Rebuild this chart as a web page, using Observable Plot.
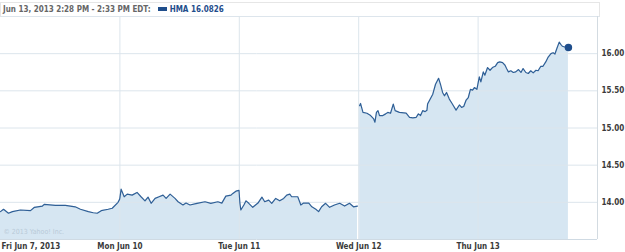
<!DOCTYPE html>
<html>
<head>
<meta charset="utf-8">
<script src="https://cdn.jsdelivr.net/npm/d3@7"></script>
<script src="https://cdn.jsdelivr.net/npm/@observablehq/plot@0.6"></script>
<style>
  body { margin: 0; background: #fff; font-family: "DejaVu Sans Condensed", "DejaVu Sans", sans-serif; }
  #wrap { position: relative; width: 625px; height: 252px; overflow: hidden; }
  #hdr { position: absolute; left: 0; top: 2px; width: 596px; height: 13px; border: 1px solid #e6e6e6; border-bottom: 1px solid #dde5ec;
         font-size: 8px; font-weight: bold; color: #666; line-height: 13px; padding-left: 2px; box-sizing: content-box; white-space: nowrap; }
  #hdr .sw { display: inline-block; width: 9px; height: 4px; background: #1f4e8c; margin: 0 3px 1px 7px; vertical-align: middle; }
  #hdr .ser { color: #1f4e8c; }
  #chart { position: absolute; left: 0; top: 16px; }
</style>
</head>
<body>
<div id="wrap">
  <div id="hdr"></div>
  <div id="chart"></div>
</div>
<script>
// ---- data ----
const headerRange = "Jun 13, 2013 2:28 PM - 2:33 PM EDT:";
const seriesName = "HMA";
const lastValue = 16.0826;
const dayLabels = ["Fri Jun 7, 2013", "Mon Jun 10", "Tue Jun 11", "Wed Jun 12", "Thu Jun 13"];
const sessionMinutes = 390;
const yTicks = [14.0, 14.5, 15.0, 15.5, 16.0];
const yDomain = [13.5, 16.5];
const copyright = "© 2013 Yahoo! Inc.";

// minutes since 9:30 open, and price, per trading day
const jun7Min = [0, 10, 26, 39, 65, 98, 111, 137, 143, 179, 212, 244, 261, 287, 303, 316, 329, 352, 365, 384, 389];
const jun7Px  = [13.875, 13.907, 13.853, 13.875, 13.897, 13.888, 13.933, 13.95, 13.973, 13.96, 13.96, 13.94, 13.907, 13.875, 13.86, 13.853, 13.888, 13.907, 13.92, 14.0, 14.04];

const jun10Min = [0, 4, 14, 24, 40, 56, 69, 82, 92, 102, 115, 128, 141, 151, 164, 180, 190, 206, 216, 229, 252, 278, 297, 320, 333, 346, 363, 369, 379, 389];
const jun10Px  = [14.06, 14.177, 14.075, 14.11, 14.097, 14.133, 14.075, 14.02, 14.07, 13.987, 14.053, 14.075, 14.097, 14.053, 14.11, 14.053, 14.008, 13.964, 13.99, 13.964, 13.987, 14.008, 13.987, 14.008, 13.99, 14.083, 14.097, 14.12, 14.15, 14.16];

const jun11Min = [2, 5, 15, 22, 31, 44, 61, 74, 83, 96, 106, 119, 132, 145, 155, 165, 171, 191, 201, 210, 227, 237, 250, 259, 269, 282, 295, 311, 328, 344, 360, 373, 386];
const jun11Px  = [13.99, 13.897, 13.964, 14.02, 13.987, 13.933, 13.99, 14.07, 14.008, 14.03, 13.987, 14.053, 14.02, 14.053, 14.097, 14.11, 14.075, 14.075, 13.964, 13.99, 13.99, 13.94, 13.907, 13.875, 13.94, 13.987, 13.933, 13.964, 13.987, 13.95, 13.987, 13.94, 13.95];

const jun12Min = [3, 6, 14, 27, 39, 49, 53, 58, 63, 68, 79, 88, 95, 104, 113, 119, 133, 155, 166, 177, 188, 195, 202, 209, 217, 223, 225, 242, 251, 261, 267, 274, 280, 287, 296, 305, 318, 329, 336, 343, 351, 358, 365, 372, 378, 386];
const jun12Px  = [15.30, 15.33, 15.21, 15.198, 15.167, 15.122, 15.078, 15.21, 15.233, 15.167, 15.167, 15.19, 15.21, 15.198, 15.322, 15.233, 15.21, 15.2, 15.144, 15.136, 15.144, 15.19, 15.167, 15.233, 15.22, 15.24, 15.322, 15.455, 15.589, 15.669, 15.589, 15.478, 15.433, 15.478, 15.389, 15.33, 15.24, 15.31, 15.278, 15.29, 15.376, 15.41, 15.52, 15.51, 15.544, 15.52];

const jun13Min = [4, 9, 17, 22, 31, 39, 47, 56, 64, 71, 80, 88, 93, 99, 107, 115, 123, 132, 140, 147, 156, 164, 172, 180, 189, 196, 205, 212, 221, 229, 238, 245, 251, 257, 265, 270, 275, 283, 290, 295];
const jun13Px  = [15.688, 15.621, 15.755, 15.71, 15.813, 15.777, 15.813, 15.83, 15.88, 15.889, 15.88, 15.844, 15.8, 15.755, 15.77, 15.747, 15.755, 15.786, 15.747, 15.8, 15.747, 15.733, 15.77, 15.742, 15.777, 15.77, 15.83, 15.83, 15.889, 15.955, 16.0, 16.013, 15.995, 16.067, 16.155, 16.124, 16.1, 16.089, 16.08, 16.0826];

// segment 0: Jun 7-11, segment 1: Jun 12-13 (gap at Jun 12 open)
const dayMins = [jun7Min, jun10Min, jun11Min, jun12Min, jun13Min];
const dayPx = [jun7Px, jun10Px, jun11Px, jun12Px, jun13Px];
const daySeg = [0, 0, 0, 1, 1];

// ---- build table ----
const data = [];
dayMins.forEach((mins, d) => mins.forEach((m, i) => data.push({t: d * sessionMinutes + m, price: dayPx[d][i], seg: daySeg[d]})));
const last = data[data.length - 1];
const dayStarts = dayLabels.map((_, i) => i * sessionMinutes);
const xEnd = dayLabels.length * sessionMinutes;

// header
document.getElementById("hdr").innerHTML =
  `${headerRange}<span class="sw"></span><span class="ser">${seriesName} ${lastValue}</span>`;

const grid = "#dce5ec";
const axisFont = {fontSize: 8, fontWeight: "bold", fill: "#3a3a3a"};

const chart = Plot.plot({
  width: 625,
  height: 236,
  marginLeft: 0,
  marginRight: 28,
  marginTop: 0,
  marginBottom: 13,
  style: {fontFamily: "'DejaVu Sans Condensed', 'DejaVu Sans', sans-serif", background: "transparent", overflow: "visible"},
  x: {domain: [0, xEnd], axis: null, label: null},
  y: {domain: yDomain, axis: null, label: null},
  marks: [
    Plot.areaY(data, {x: "t", y1: yDomain[0], y2: "price", z: "seg", fill: "#d6e6f2", curve: "linear"}),
    Plot.gridY(yTicks, {stroke: grid, strokeOpacity: 1}),
    Plot.gridX(dayStarts.slice(1), {stroke: grid, strokeOpacity: 1}),
    Plot.ruleY([yDomain[0]], {stroke: "#cfdae3"}),
    Plot.ruleX([xEnd], {stroke: "#d3dbe1"}),
    Plot.lineY(data, {x: "t", y: "price", z: "seg", stroke: "#2f5f96", strokeWidth: 1.2}),
    Plot.dot([last], {x: "t", y: "price", r: 3, fill: "#1f4e8c", stroke: "#1f4e8c"}),
    Plot.text([copyright], {frameAnchor: "bottom-left", dx: 3, dy: -6, fontSize: 7, fill: "#b9cad8", textAnchor: "start"}),
    Plot.axisY({anchor: "right", label: null, ticks: yTicks, tickSize: 0, tickPadding: 4, tickFormat: d3.format(".2f"), ...axisFont}),
    Plot.axisX({anchor: "bottom", label: null, ticks: dayStarts.slice(0, 1), tickSize: 0, tickPadding: 4, textAnchor: "start", dx: 1,
      tickFormat: (d) => dayLabels[Math.round(d / sessionMinutes)], ...axisFont}),
    Plot.axisX({anchor: "bottom", label: null, ticks: dayStarts.slice(1), tickSize: 0, tickPadding: 4,
      tickFormat: (d) => dayLabels[Math.round(d / sessionMinutes)], ...axisFont})
  ]
});
document.getElementById("chart").appendChild(chart);
</script>
</body>
</html>
